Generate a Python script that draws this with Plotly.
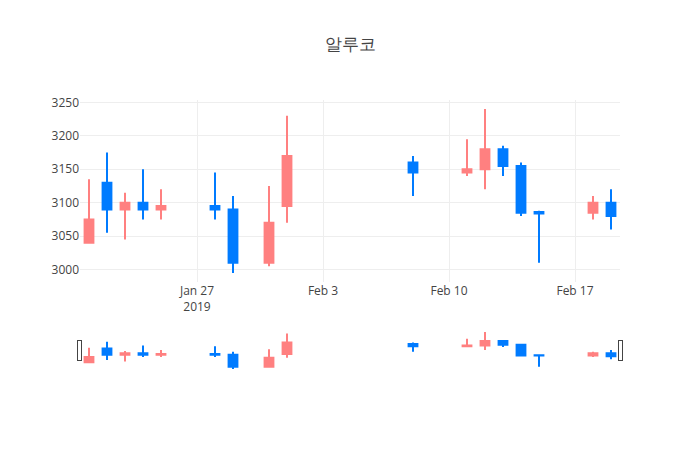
import plotly.graph_objects as go

dates = ["2019-01-21", "2019-01-22", "2019-01-23", "2019-01-24", "2019-01-25",
         "2019-01-28", "2019-01-29", "2019-01-31", "2019-02-01",
         "2019-02-08", "2019-02-11", "2019-02-12", "2019-02-13", "2019-02-14",
         "2019-02-15", "2019-02-18", "2019-02-19"]
open_ = [3040, 3130, 3090, 3100, 3090, 3095, 3090, 3010, 3095,
         3160, 3145, 3150, 3180, 3155, 3086, 3085, 3100]
high = [3135, 3175, 3115, 3150, 3120, 3145, 3110, 3125, 3230,
        3170, 3195, 3240, 3185, 3160, 3088, 3110, 3120]
low = [3040, 3055, 3045, 3075, 3075, 3075, 2995, 3005, 3070,
       3110, 3140, 3120, 3140, 3080, 3010, 3075, 3060]
close = [3075, 3090, 3100, 3090, 3095, 3090, 3010, 3070, 3170,
         3145, 3150, 3180, 3155, 3085, 3084, 3100, 3080]

RED = "#FF8080"
BLUE = "#007BFF"

fig = go.Figure(go.Candlestick(
    x=dates, open=open_, high=high, low=low, close=close,
    increasing=dict(line=dict(color=RED), fillcolor=RED),
    decreasing=dict(line=dict(color=BLUE), fillcolor=BLUE),
))
fig.update_layout(
    template="none",
    width=700, height=450,
    title=dict(text="알루코", x=0.5),
    xaxis=dict(rangeslider=dict(visible=True), gridcolor="#eee"),
    yaxis=dict(gridcolor="#eee"),
    font=dict(color="#444"),
    showlegend=False,
)
fig.write_html("out.html")
